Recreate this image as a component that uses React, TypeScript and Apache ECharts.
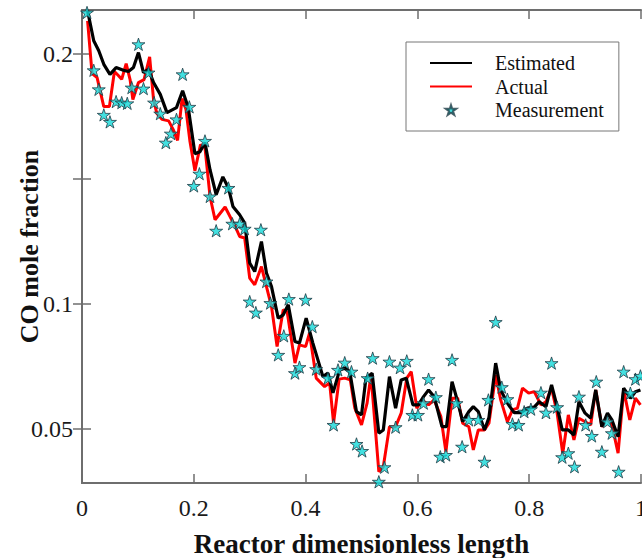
import React, { useEffect, useRef } from "react";
import * as echarts from "echarts";

const xTicks = [0, 0.2, 0.4, 0.6, 0.8, 1];
const yTicks = [0.05, 0.1, 0.15, 0.2];
const yLabels = [0.05, 0.1, 0.2];
const seriesNames = ["Estimated", "Actual", "Measurement"];

const estimated: [number, number][] = [
  [0.010, 0.2172], [0.021, 0.2052], [0.030, 0.2012], [0.039, 0.1958], [0.050, 0.1918], [0.061, 0.1945],
  [0.074, 0.1934], [0.083, 0.1929], [0.092, 0.1945], [0.101, 0.2005], [0.110, 0.1925], [0.119, 0.1938],
  [0.128, 0.1885], [0.140, 0.1838], [0.152, 0.1765], [0.169, 0.1785], [0.180, 0.1852], [0.190, 0.1785],
  [0.202, 0.1601], [0.211, 0.1609], [0.220, 0.1645], [0.229, 0.1537], [0.240, 0.1437], [0.252, 0.1508],
  [0.262, 0.1464], [0.270, 0.1390], [0.282, 0.1357], [0.291, 0.1324], [0.300, 0.1164], [0.309, 0.1130],
  [0.321, 0.1250], [0.330, 0.1124], [0.339, 0.1070], [0.351, 0.0944], [0.360, 0.0957], [0.369, 0.0997],
  [0.381, 0.0850], [0.389, 0.0844], [0.401, 0.0944], [0.413, 0.0844], [0.422, 0.0777], [0.431, 0.0710],
  [0.440, 0.0724], [0.449, 0.0645], [0.461, 0.0737], [0.470, 0.0744], [0.479, 0.0730], [0.491, 0.0570],
  [0.500, 0.0557], [0.508, 0.0704], [0.519, 0.0724], [0.531, 0.0484], [0.539, 0.0497], [0.550, 0.0710],
  [0.561, 0.0584], [0.571, 0.0697], [0.580, 0.0704], [0.592, 0.0597], [0.602, 0.0597], [0.611, 0.0630],
  [0.620, 0.0657], [0.630, 0.0630], [0.644, 0.0510], [0.652, 0.0510], [0.662, 0.0690], [0.672, 0.0610],
  [0.681, 0.0530], [0.692, 0.0570], [0.700, 0.0590], [0.709, 0.0570], [0.720, 0.0497], [0.728, 0.0547],
  [0.740, 0.0764], [0.749, 0.0657], [0.761, 0.0604], [0.773, 0.0566], [0.785, 0.0566], [0.797, 0.0584],
  [0.809, 0.0588], [0.818, 0.0610], [0.830, 0.0590], [0.840, 0.0677], [0.850, 0.0590], [0.859, 0.0497],
  [0.870, 0.0497], [0.880, 0.0477], [0.889, 0.0610], [0.900, 0.0564], [0.910, 0.0544], [0.919, 0.0657],
  [0.930, 0.0510], [0.940, 0.0564], [0.948, 0.0537], [0.959, 0.0470], [0.969, 0.0664], [0.981, 0.0624],
  [0.990, 0.0650], [0.999, 0.0657],
];

const actual: [number, number][] = [
  [0.010, 0.2132], [0.018, 0.1921], [0.027, 0.1905], [0.039, 0.1789], [0.049, 0.1789], [0.058, 0.1929],
  [0.065, 0.1913], [0.071, 0.1898], [0.079, 0.1961], [0.086, 0.1897], [0.091, 0.1817], [0.101, 0.1885],
  [0.111, 0.1897], [0.121, 0.1988], [0.128, 0.1817], [0.134, 0.1761], [0.143, 0.1738], [0.155, 0.1732],
  [0.163, 0.1698], [0.171, 0.1654], [0.179, 0.1821], [0.186, 0.1777], [0.193, 0.1652], [0.202, 0.1533],
  [0.212, 0.1637], [0.220, 0.1625], [0.229, 0.1430], [0.238, 0.1337], [0.256, 0.1388], [0.274, 0.1310],
  [0.282, 0.1270], [0.291, 0.1264], [0.300, 0.1104], [0.309, 0.1077], [0.321, 0.1150], [0.330, 0.1070],
  [0.339, 0.0990], [0.349, 0.0830], [0.360, 0.0977], [0.367, 0.0969], [0.381, 0.0764], [0.389, 0.0837],
  [0.400, 0.0830], [0.407, 0.0884], [0.419, 0.0704], [0.434, 0.0670], [0.443, 0.0685], [0.450, 0.0525],
  [0.460, 0.0700], [0.470, 0.0704], [0.480, 0.0697], [0.488, 0.0585], [0.500, 0.0517], [0.510, 0.0604],
  [0.517, 0.0717], [0.531, 0.0330], [0.539, 0.0350], [0.550, 0.0510], [0.561, 0.0510], [0.571, 0.0564],
  [0.581, 0.0704], [0.589, 0.0730], [0.599, 0.0584], [0.608, 0.0617], [0.620, 0.0597], [0.630, 0.0617],
  [0.642, 0.0550], [0.651, 0.0410], [0.662, 0.0624], [0.672, 0.0624], [0.681, 0.0524], [0.692, 0.0510],
  [0.700, 0.0417], [0.709, 0.0497], [0.720, 0.0497], [0.728, 0.0524], [0.740, 0.0717], [0.749, 0.0617],
  [0.761, 0.0530], [0.770, 0.0577], [0.779, 0.0584], [0.788, 0.0664], [0.799, 0.0644], [0.809, 0.0650],
  [0.821, 0.0597], [0.830, 0.0610], [0.840, 0.0664], [0.850, 0.0564], [0.860, 0.0404], [0.870, 0.0557],
  [0.880, 0.0457], [0.889, 0.0544], [0.900, 0.0530], [0.910, 0.0517], [0.919, 0.0657], [0.930, 0.0510],
  [0.938, 0.0544], [0.948, 0.0517], [0.959, 0.0404], [0.969, 0.0657], [0.980, 0.0537], [0.990, 0.0624],
  [0.999, 0.0597],
];

const measurement: [number, number][] = [
  [0.009, 0.2165], [0.021, 0.1934], [0.030, 0.1858], [0.039, 0.1756], [0.050, 0.1728], [0.061, 0.1809],
  [0.071, 0.1805], [0.081, 0.1802], [0.089, 0.1865], [0.101, 0.2038], [0.110, 0.1861], [0.119, 0.1925],
  [0.129, 0.1805], [0.140, 0.1761], [0.150, 0.1645], [0.159, 0.1681], [0.169, 0.1738], [0.180, 0.1918],
  [0.192, 0.1788], [0.200, 0.1472], [0.210, 0.1521], [0.220, 0.1652], [0.229, 0.1430], [0.240, 0.1293],
  [0.262, 0.1464], [0.269, 0.1321], [0.282, 0.1321], [0.291, 0.1301], [0.300, 0.1010], [0.311, 0.0966],
  [0.320, 0.1297], [0.330, 0.1090], [0.337, 0.1004], [0.351, 0.0797], [0.361, 0.0873], [0.370, 0.1020],
  [0.381, 0.0724], [0.389, 0.0748], [0.400, 0.1017], [0.412, 0.0910], [0.419, 0.0740], [0.440, 0.0704],
  [0.450, 0.0517], [0.458, 0.0737], [0.470, 0.0766], [0.482, 0.0730], [0.491, 0.0441], [0.501, 0.0413],
  [0.511, 0.0704], [0.520, 0.0784], [0.531, 0.0290], [0.541, 0.0348], [0.550, 0.0770], [0.561, 0.0508],
  [0.569, 0.0746], [0.581, 0.0773], [0.591, 0.0557], [0.601, 0.0557], [0.611, 0.0604], [0.620, 0.0700],
  [0.633, 0.0628], [0.641, 0.0390], [0.651, 0.0397], [0.662, 0.0777], [0.670, 0.0604], [0.680, 0.0430],
  [0.692, 0.0537], [0.709, 0.0537], [0.720, 0.0370], [0.727, 0.0617], [0.740, 0.0928], [0.751, 0.0668],
  [0.761, 0.0620], [0.770, 0.0521], [0.781, 0.0517], [0.791, 0.0570], [0.803, 0.0580], [0.821, 0.0646],
  [0.830, 0.0566], [0.840, 0.0764], [0.850, 0.0588], [0.859, 0.0388], [0.870, 0.0404], [0.881, 0.0350],
  [0.889, 0.0630], [0.901, 0.0517], [0.912, 0.0473], [0.920, 0.0690], [0.930, 0.0410], [0.940, 0.0530],
  [0.948, 0.0484], [0.960, 0.0330], [0.969, 0.0730], [0.981, 0.0644], [0.990, 0.0700], [0.999, 0.0713],
];

const STAR =
  "path://M50 0 L61.23 34.55 L97.55 34.55 L68.17 55.9 L79.39 90.45 L50 69.1 L20.61 90.45 L31.83 55.9 L2.45 34.55 L38.77 34.55 Z";

const FONT = "Liberation Serif";
const AXIS_COLOR = "#6e6e6e";

export default function App() {
  const ref = useRef<HTMLDivElement>(null);

  useEffect(() => {
    if (!ref.current) return;
    const chart = echarts.init(ref.current, null, { renderer: "svg" });
    const axisLine = { show: true, lineStyle: { color: AXIS_COLOR, width: 2 } };
    const tick = { show: true, inside: true, length: 9, lineStyle: { color: AXIS_COLOR, width: 1.5 } };
    chart.setOption({
      animation: false,
      backgroundColor: "#ffffff",
      textStyle: { fontFamily: FONT },
      grid: { left: 82, top: 10, width: 559, height: 473, containLabel: false, outerBoundsMode: "none" },
      legend: {
        data: [
          { name: seriesNames[0], itemStyle: { opacity: 0 } },
          { name: seriesNames[1], itemStyle: { opacity: 0 } },
          { name: seriesNames[2] },
        ],
        orient: "vertical",
        left: 406,
        top: 42,
        padding: [11, 15, 11, 23],
        itemWidth: 42,
        itemHeight: 10,
        itemGap: 3.5,
        backgroundColor: "#ffffff",
        borderColor: "#777777",
        borderWidth: 1,
        textStyle: { fontSize: 20, color: "#111111", fontFamily: FONT, padding: [0, 0, 0, 18] },
      },
      xAxis: [
        {
          type: "value",
          position: "bottom",
          min: xTicks[0],
          max: xTicks[xTicks.length - 1],
          interval: 0.2,
          axisLine,
          axisTick: tick,
          splitLine: { show: false },
          axisLabel: { fontSize: 24, color: "#1a1a1a", margin: 13, fontFamily: FONT },
          name: "Reactor dimensionless length",
          nameLocation: "middle",
          nameGap: 47,
          nameMoveOverlap: false,
          nameTextStyle: { fontSize: 27, fontWeight: "bold", color: "#111111", fontFamily: FONT },
        },
        {
          type: "value",
          position: "top",
          min: xTicks[0],
          max: xTicks[xTicks.length - 1],
          interval: 0.2,
          axisLine,
          axisTick: tick,
          splitLine: { show: false },
          axisLabel: { show: false },
        },
      ],
      yAxis: [
        {
          type: "value",
          position: "left",
          min: 0.0285,
          max: 0.2175,
          axisLine,
          axisTick: { ...tick, customValues: yTicks },
          splitLine: { show: false },
          axisLabel: { customValues: yLabels, fontSize: 24, color: "#1a1a1a", margin: 9, fontFamily: FONT },
          name: "CO mole fraction",
          nameLocation: "middle",
          nameGap: 40,
          nameMoveOverlap: false,
          nameTextStyle: { fontSize: 26, fontWeight: "bold", color: "#111111", fontFamily: FONT },
        },
        {
          type: "value",
          position: "right",
          min: 0.0285,
          max: 0.2175,
          axisLine,
          axisTick: { ...tick, customValues: yTicks },
          splitLine: { show: false },
          axisLabel: { show: false },
        },
      ],
      series: [
        {
          name: "Actual",
          type: "line",
          data: actual,
          symbol: "none",
          lineStyle: { color: "#ff0000", width: 3 },
          itemStyle: { color: "#ff0000" },
          z: 2,
        },
        {
          name: "Estimated",
          type: "line",
          data: estimated,
          symbol: "none",
          lineStyle: { color: "#000000", width: 3.2 },
          itemStyle: { color: "#000000" },
          z: 3,
        },
        {
          name: "Measurement",
          type: "scatter",
          data: measurement,
          symbol: STAR,
          symbolKeepAspect: true,
          symbolSize: 13,
          itemStyle: { color: "#14d8d8", borderColor: "#1f3b45", borderWidth: 1 },
          z: 4,
        },
      ],
    });
    return () => chart.dispose();
  }, []);

  return <div ref={ref} style={{ position: "fixed", left: 0, top: 0, width: 642, height: 558 }} />;
}
